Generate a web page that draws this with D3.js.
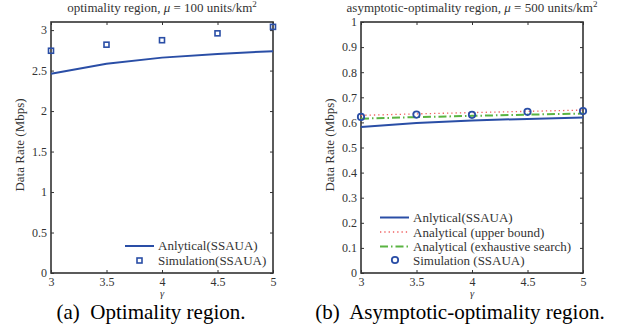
<!DOCTYPE html>
<html><head><meta charset="utf-8">
<script src="https://cdn.jsdelivr.net/npm/d3@7"></script>
<style>body{margin:0;background:#fff}svg{display:block}text{font-family:"Liberation Serif","Times New Roman",serif}</style>
</head><body>
<script>
const gammas = [3, 3.5, 4, 4.5, 5];
const xTicks = [3, 3.5, 4, 4.5, 5];
const aAnalytical = [2.46, 2.585, 2.66, 2.705, 2.74];
const aSimulation = [2.745, 2.82, 2.875, 2.96, 3.04];
const aYTicks = [0, 0.5, 1, 1.5, 2, 2.5, 3];
const bAnalytical = [0.582, 0.598, 0.608, 0.614, 0.62];
const bUpper = [0.628, 0.634, 0.639, 0.644, 0.649];
const bExhaustive = [0.615, 0.621, 0.626, 0.631, 0.635];
const bSimulation = [0.622, 0.631, 0.63, 0.642, 0.645];
const bYTicks = [0, 0.1, 0.2, 0.3, 0.4, 0.5, 0.6, 0.7, 0.8, 0.9, 1];

const W = 619, H = 330;
const svg = d3.select("body").append("svg").attr("width", W).attr("height", H);
const BLUE = "#2a4ea6", RED = "#f06060", GREEN = "#5ab442", AX = "#333";
const FF = '"Liberation Serif", serif';

function panel(opt) {
  const g = svg.append("g");
  const x = d3.scaleLinear().domain([3, 5]).range([opt.x0, opt.x1]);
  const y = d3.scaleLinear().domain(opt.ydom).range([273, 22]);
  const axB = d3.axisBottom(x).tickValues(xTicks).tickSize(-3).tickFormat(d3.format("~g"));
  const axT = d3.axisTop(x).tickValues(xTicks).tickSize(-3).tickFormat("");
  const axL = d3.axisLeft(y).tickValues(opt.yticks).tickSize(-3).tickFormat(d3.format("~g"));
  const axR = d3.axisRight(y).tickValues(opt.yticks).tickSize(-3).tickFormat("");
  const gb = g.append("g").attr("transform", `translate(0,273)`).call(axB);
  const gt = g.append("g").attr("transform", `translate(0,22)`).call(axT);
  const gl = g.append("g").attr("transform", `translate(${opt.x0},0)`).call(axL);
  const gr = g.append("g").attr("transform", `translate(${opt.x1},0)`).call(axR);
  [gb, gt, gl, gr].forEach(a => {
    a.attr("font-family", FF);
    a.select(".domain").remove();
    a.selectAll(".tick line").attr("stroke", AX).attr("stroke-width", 1);
    a.selectAll(".tick text").attr("fill", "#333").style("font-size", "12px");
  });
  gb.selectAll(".tick text").attr("dy", null).attr("y", 285);
  gb.selectAll(".tick text").attr("y", 12.5);
  gl.selectAll(".tick text").attr("x", -4);
  g.append("rect").attr("x", opt.x0).attr("y", 22).attr("width", opt.x1 - opt.x0).attr("height", 251)
    .attr("fill", "none").attr("stroke", AX).attr("stroke-width", 1.6);
  const cx = (opt.x0 + opt.x1) / 2;
  g.append("text").attr("x", cx).attr("y", 296.5).attr("text-anchor", "middle").attr("fill", "#333")
    .style("font-size", "10.5px").style("font-style", "italic").text("γ");
  g.append("text").attr("transform", `translate(${opt.x0 - 27},145) rotate(-90)`).attr("text-anchor", "middle")
    .attr("fill", "#333").style("font-size", "13px").text("Data Rate (Mbps)");
  const t = g.append("text").attr("x", cx).attr("y", 12).attr("text-anchor", "middle").attr("fill", "#333").style("font-size", "13px");
  t.append("tspan").text(opt.title + ", ");
  t.append("tspan").style("font-style", "italic").text("μ");
  t.append("tspan").text(" = " + opt.mu + " units/km");
  t.append("tspan").attr("dy", -5).style("font-size", "9px").text("2");
  g.append("text").attr("x", cx + opt.capdx).attr("y", 319).attr("text-anchor", "middle").attr("fill", "#000")
    .style("font-size", "21px").text(opt.caption);
  return {g, x, y};
}

// Panel a
const A = panel({x0: 51, x1: 273, ydom: [0, 3.1], yticks: aYTicks, title: "optimality region", mu: 100, caption: "(a)\u00a0 Optimality region.", capdx: -11});
const lineA = d3.line().x((d, i) => A.x(gammas[i])).y(d => A.y(d));
A.g.append("path").datum(aAnalytical).attr("d", lineA).attr("fill", "none").attr("stroke", BLUE).attr("stroke-width", 2);
A.g.selectAll(".sq").data(aSimulation).enter().append("rect")
  .attr("x", (d, i) => A.x(gammas[i]) - 2.5).attr("y", d => A.y(d) - 2.5).attr("width", 5).attr("height", 5)
  .attr("fill", "none").attr("stroke", BLUE).attr("stroke-width", 1.6);
const la = A.g.append("g");
la.append("line").attr("x1", 125).attr("x2", 154).attr("y1", 246).attr("y2", 246).attr("stroke", BLUE).attr("stroke-width", 2);
la.append("text").attr("x", 158).attr("y", 250).style("font-size", "13px").attr("fill", "#333").text("Anlytical(SSAUA)");
la.append("rect").attr("x", 137).attr("y", 258).attr("width", 5).attr("height", 5).attr("fill", "none").attr("stroke", BLUE).attr("stroke-width", 1.6);
la.append("text").attr("x", 158).attr("y", 264.5).style("font-size", "13px").attr("fill", "#333").text("Simulation(SSAUA)");

// Panel b
const B = panel({x0: 361, x1: 583, ydom: [0, 1], yticks: bYTicks, title: "asymptotic-optimality region", mu: 500, caption: "(b)\u00a0 Asymptotic-optimality region.", capdx: -12});
const lineB = d3.line().x((d, i) => B.x(gammas[i])).y(d => B.y(d));
B.g.append("path").datum(bUpper).attr("d", lineB).attr("fill", "none").attr("stroke", RED).attr("stroke-width", 1.3).attr("stroke-dasharray", "1.3,3");
B.g.append("path").datum(bExhaustive).attr("d", lineB).attr("fill", "none").attr("stroke", GREEN).attr("stroke-width", 2).attr("stroke-dasharray", "8,3,1.5,3");
B.g.append("path").datum(bAnalytical).attr("d", lineB).attr("fill", "none").attr("stroke", BLUE).attr("stroke-width", 2);
B.g.selectAll(".ci").data(bSimulation).enter().append("circle")
  .attr("cx", (d, i) => B.x(gammas[i])).attr("cy", d => B.y(d)).attr("r", 3.2)
  .attr("fill", "none").attr("stroke", BLUE).attr("stroke-width", 1.8);
const lb = B.g.append("g");
const rows = [217.5, 232, 246.5, 260];
const labels = ["Anlytical(SSAUA)", "Analytical (upper bound)", "Analytical (exhaustive search)", "Simulation (SSAUA)"];
lb.append("line").attr("x1", 380).attr("x2", 409).attr("y1", rows[0]).attr("y2", rows[0]).attr("stroke", BLUE).attr("stroke-width", 2);
lb.append("line").attr("x1", 380).attr("x2", 409).attr("y1", rows[1]).attr("y2", rows[1]).attr("stroke", RED).attr("stroke-width", 1.3).attr("stroke-dasharray", "1.3,3");
lb.append("line").attr("x1", 380).attr("x2", 409).attr("y1", rows[2]).attr("y2", rows[2]).attr("stroke", GREEN).attr("stroke-width", 2).attr("stroke-dasharray", "8,3,1.5,3");
lb.append("circle").attr("cx", 395).attr("cy", rows[3]).attr("r", 3.2).attr("fill", "none").attr("stroke", BLUE).attr("stroke-width", 1.8);
labels.forEach((s, i) => lb.append("text").attr("x", 413).attr("y", rows[i] + 4.5).style("font-size", "13px").attr("fill", "#333").text(s));
</script>
</body></html>
